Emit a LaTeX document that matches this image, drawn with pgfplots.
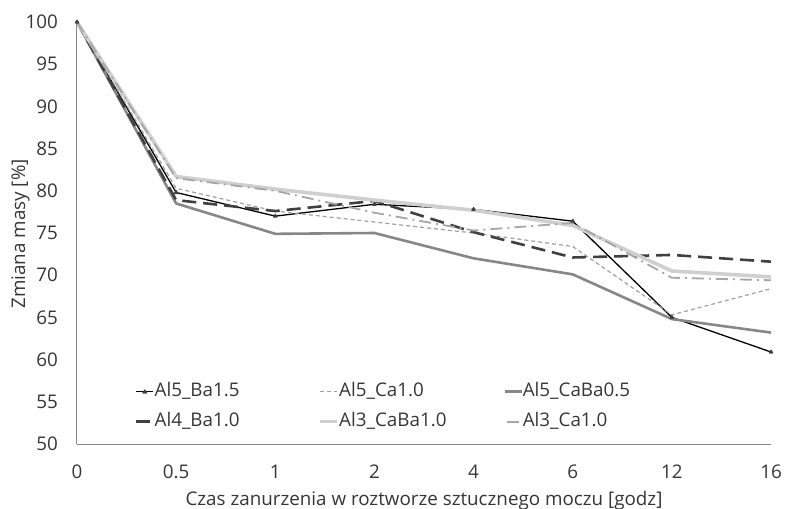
\documentclass[border=0pt]{standalone}
\usepackage{fontspec}
\setmainfont{Open Sans}
\usepackage{pgfplots}
\pgfplotsset{compat=1.18}
\definecolor{axisgray}{HTML}{868686}
\definecolor{txt}{HTML}{363636}
\definecolor{cA}{HTML}{000000}
\definecolor{cB}{HTML}{A0A0A0}
\definecolor{cC}{HTML}{878787}
\definecolor{cD}{HTML}{404040}
\definecolor{cE}{HTML}{CFCFCF}
\definecolor{cF}{HTML}{A6A6A6}
\begin{document}
\begin{tikzpicture}
\useasboundingbox (-77pt,-65pt) rectangle (708pt,444pt);
\begin{axis}[
  name=ax,
  at={(0pt,0pt)}, anchor=south west,
  scale only axis, width=694pt, height=422pt,
  xmin=0, xmax=7, ymin=50, ymax=100,
  axis x line*=bottom, axis y line*=left,
  axis line style={draw=axisgray, line width=1pt},
  xtick={0,1,2,3,4,5,6,7},
  xticklabels={0,0.5,1,2,4,6,12,16},
  ytick={50,55,60,65,70,75,80,85,90,95,100},
  major tick length=0pt,
  tick style={draw=none},
  font=\fontsize{18.8}{22}\selectfont,
  tick label style={text=txt},
  /pgf/number format/assume math mode=true,
  yticklabel style={inner sep=0pt, anchor=east, xshift=-19pt},
  xticklabel style={inner sep=0pt, anchor=base, yshift=-34pt},
  xlabel={Czas zanurzenia w roztworze sztucznego moczu [godz]},
  ylabel={Zmiana masy [\%]},
  xlabel style={at={(axis description cs:0.5,-0.1469)}, anchor=base, text=txt, inner sep=0pt},
  ylabel style={at={(axis description cs:-0.0749,0.4976)}, anchor=base, text=txt, inner sep=0pt},
  legend columns=3,
  legend style={draw=none, fill=none, at={(axis description cs:0.0836,0.1453)}, anchor=north west,
    inner sep=0pt, outer sep=0pt, row sep=12pt, column sep=0pt,
    nodes={inner sep=0pt, text height=14pt, text depth=4pt, text=txt},
    font=\fontsize{18.8}{22}\selectfont},
  legend image code/.code={\draw[#1] (0pt,0pt) -- (17pt,0pt);},
  line join=round,
]
\addplot[cA, line width=1.3pt, mark=triangle*, mark size=1.8pt, mark options={fill=cD, draw=cD, solid},
  legend image code/.code={\draw[cA, line width=1.3pt] (0pt,0pt) -- (17pt,0pt); \fill[cD] (8.5pt,0pt) ++(-1.8pt,-1.2pt) -- ++(3.6pt,0pt) -- ++(-1.8pt,2.8pt) -- cycle;}]
  coordinates {(0,100) (1,79.8) (2,77.0) (3,78.4) (4,77.8) (5,76.4) (6,65.0) (7,60.9)};
\addlegendentry{\makebox[164pt][l]{Al5\_Ba1.5}}
\addplot[cB, line width=1.2pt, dash pattern=on 4pt off 3pt]
  coordinates {(0,100) (1,80.3) (2,77.6) (3,76.3) (4,75.0) (5,73.4) (6,65.3) (7,68.4)};
\addlegendentry{\makebox[164pt][l]{Al5\_Ca1.0}}
\addplot[cC, line width=2.6pt]
  coordinates {(0,100) (1,78.5) (2,74.9) (3,75.0) (4,72.0) (5,70.1) (6,64.8) (7,63.2)};
\addlegendentry{\makebox[164pt][l]{Al5\_CaBa0.5}}
\addplot[cD, line width=2.6pt, dash pattern=on 14pt off 7pt,
  legend image code/.code={\draw[cD, line width=2.6pt] (0pt,0pt) -- (17pt,0pt);}]
  coordinates {(0,100) (1,78.9) (2,77.6) (3,78.8) (4,75.1) (5,72.1) (6,72.4) (7,71.6)};
\addlegendentry{\makebox[164pt][l]{Al4\_Ba1.0}}
\addplot[cE, line width=3.6pt]
  coordinates {(0,100) (1,81.7) (2,80.2) (3,78.9) (4,77.7) (5,75.9) (6,70.5) (7,69.8)};
\addlegendentry{\makebox[164pt][l]{Al3\_CaBa1.0}}
\addplot[cF, line width=1.8pt, dash pattern=on 12pt off 5pt on 2pt off 5pt,
  legend image code/.code={\draw[cF, line width=1.8pt] (2pt,0pt) -- (15pt,0pt);}]
  coordinates {(0,100) (1,81.5) (2,80.0) (3,77.4) (4,75.3) (5,76.2) (6,69.7) (7,69.4)};
\addlegendentry{\makebox[164pt][l]{Al3\_Ca1.0}}
\end{axis}
\end{tikzpicture}
\end{document}
